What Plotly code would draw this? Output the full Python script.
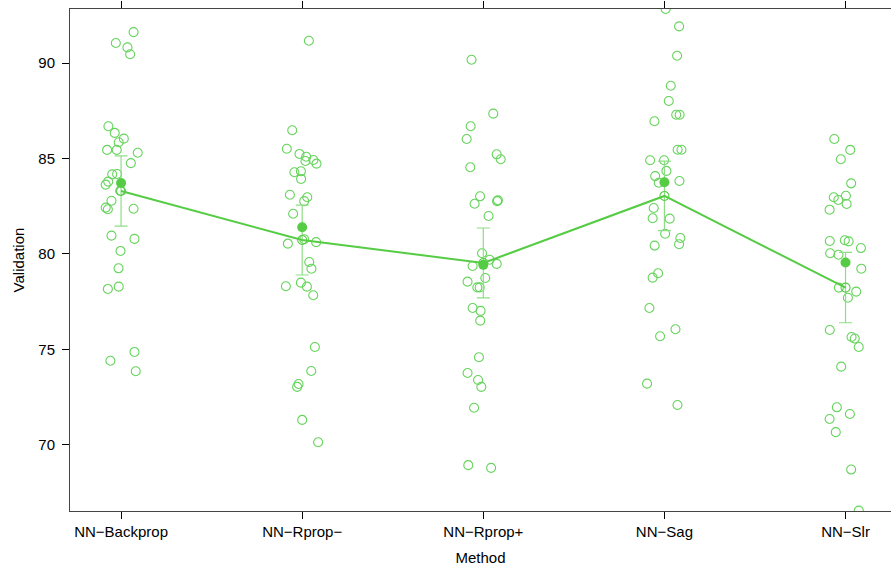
import plotly.graph_objects as go

methods = ["NN\u2212Backprop", "NN\u2212Rprop\u2212", "NN\u2212Rprop+", "NN\u2212Sag", "NN\u2212Slr"]

val_backprop = [91.62, 91.05, 90.82, 90.46, 86.69, 86.34, 86.04, 85.85, 85.45, 85.45, 85.30, 84.76, 84.17, 84.19, 83.79,
                83.63, 83.31, 82.79, 82.43, 82.34, 82.37, 80.96, 80.79, 80.16, 79.25, 78.29, 78.17, 74.87, 74.41, 73.86]
jit_backprop = [0.069, -0.029, 0.035, 0.050, -0.070, -0.035, 0.015, -0.013, -0.077, -0.024, 0.092, 0.054, -0.049, -0.022, -0.071,
                -0.085, -0.005, -0.053, -0.085, -0.073, 0.069, -0.053, 0.074, -0.003, -0.014, -0.013, -0.073, 0.074, -0.059, 0.081]

val_rpropm = [91.17, 86.48, 85.51, 85.24, 85.09, 84.87, 84.92, 84.73, 84.28, 84.33, 83.93, 83.10, 82.97, 82.77, 82.11,
              80.54, 80.77, 80.62, 79.58, 79.23, 78.31, 78.50, 78.29, 77.84, 75.13, 73.87, 73.19, 73.04, 71.31, 70.14]
jit_rpropm = [0.037, -0.055, -0.085, -0.015, 0.022, 0.018, 0.062, 0.079, -0.043, -0.007, -0.006, -0.068, 0.028, 0.011, -0.050,
              -0.079, 0.011, 0.077, 0.039, 0.051, -0.090, -0.007, 0.026, 0.061, 0.070, 0.050, -0.020, -0.028, 0.000, 0.088]

val_rpropp = [90.17, 87.35, 86.69, 86.02, 85.22, 84.96, 84.54, 83.02, 82.63, 82.77, 82.81, 81.99, 80.04, 79.70, 79.37,
              79.48, 78.55, 78.74, 78.25, 78.25, 77.17, 77.02, 76.51, 74.59, 73.77, 73.40, 73.04, 71.95, 68.94, 68.80]
jit_rpropp = [-0.065, 0.055, -0.070, -0.092, 0.074, 0.096, -0.072, -0.018, -0.048, 0.076, 0.081, 0.029, -0.007, 0.035, -0.059,
              0.074, -0.087, 0.011, -0.033, -0.020, -0.059, -0.015, -0.017, -0.024, -0.087, -0.029, -0.011, -0.051, -0.083, 0.043]

val_sag = [92.83, 91.92, 90.38, 88.81, 88.01, 87.29, 87.29, 86.95, 85.46, 85.46, 84.91, 84.91, 84.35, 84.08, 83.73,
           83.82, 82.41, 81.87, 81.85, 81.06, 80.84, 80.51, 80.44, 78.99, 78.76, 77.17, 76.06, 75.69, 73.21, 72.09]
jit_sag = [0.007, 0.081, 0.070, 0.035, 0.024, 0.065, 0.084, -0.055, 0.073, 0.094, -0.079, -0.002, 0.011, -0.051, -0.031,
           0.083, -0.059, -0.065, 0.029, 0.004, 0.088, 0.081, -0.054, -0.035, -0.065, -0.083, 0.061, -0.024, -0.096, 0.072]

val_slr = [86.02, 85.45, 84.96, 83.70, 82.97, 82.83, 83.05, 82.62, 82.32, 80.68, 80.72, 80.66, 80.31, 80.04, 79.96,
           79.23, 78.24, 78.03, 77.71, 76.02, 75.65, 75.57, 75.13, 74.10, 71.97, 71.62, 71.36, 70.67, 68.71, 66.56]
jit_slr = [-0.062, 0.026, -0.026, 0.031, -0.065, -0.040, 0.002, 0.006, -0.088, -0.087, -0.004, 0.017, 0.085, -0.085, -0.039,
           0.087, -0.037, 0.059, 0.013, -0.087, 0.033, 0.051, 0.073, -0.024, -0.048, 0.024, -0.088, -0.054, 0.031, 0.073]

mean_vals = [83.30, 80.73, 79.53, 83.04, 78.24]
ci_half = [1.84, 1.83, 1.83, 1.82, 1.84]
median_vals = [83.72, 81.40, 79.43, 83.76, 79.55]

y_ticks = [70, 75, 80, 85, 90]

groups = [val_backprop, val_rpropm, val_rpropp, val_sag, val_slr]
jitters = [jit_backprop, jit_rpropm, jit_rpropp, jit_sag, jit_slr]

PT = "#66d45c"
LN = "#55cc44"
EB = "#8edd86"
FONT = "Liberation Sans, Arial, sans-serif"
FS = 15

fig = go.Figure()

px, py = [], []
for i, (vals, jit) in enumerate(zip(groups, jitters)):
    for v, j in zip(vals, jit):
        px.append(i + j)
        py.append(v)

fig.add_trace(go.Scatter(
    x=px, y=py, mode="markers",
    marker=dict(symbol="circle-open", size=9, color=PT, line=dict(width=1.1, color=PT)),
    cliponaxis=True, showlegend=False, hoverinfo="y"))

fig.add_trace(go.Scatter(
    x=list(range(len(methods))), y=mean_vals, mode="lines+markers",
    line=dict(color=LN, width=2),
    marker=dict(symbol="circle-open", size=9, color=LN, line=dict(width=1.1, color=LN)),
    error_y=dict(type="data", array=ci_half, visible=True, color=EB, thickness=1.2, width=6.5),
    showlegend=False))

fig.add_trace(go.Scatter(
    x=list(range(len(methods))), y=median_vals, mode="markers",
    marker=dict(symbol="circle", size=10, color=LN),
    showlegend=False))

axis_common = dict(showgrid=False, zeroline=False, linecolor="#444444", linewidth=1,
                   ticks="outside", ticklen=7, tickcolor="#000000", tickwidth=1,
                   tickfont=dict(family=FONT, size=FS, color="#000000"))

fig.update_layout(
    width=891, height=568,
    margin=dict(l=70, r=0, t=9, b=57),
    paper_bgcolor="white", plot_bgcolor="white",
    font=dict(family=FONT, size=FS, color="#000000"),
    xaxis=dict(range=[-0.282, 4.251], tickmode="array", tickvals=list(range(len(methods))),
               ticktext=methods, showline=True, mirror="ticks",
               title=dict(text="Method", font=dict(family=FONT, size=FS), standoff=13),
               **axis_common),
    yaxis=dict(range=[66.54, 92.83], tickmode="array", tickvals=y_ticks,
               ticktext=[str(t) for t in y_ticks], showline=True, mirror=False,
               ticklabelstandoff=4,
               title=dict(text="Validation", font=dict(family=FONT, size=FS), standoff=10),
               **axis_common),
)

fig.write_html("out.html")
